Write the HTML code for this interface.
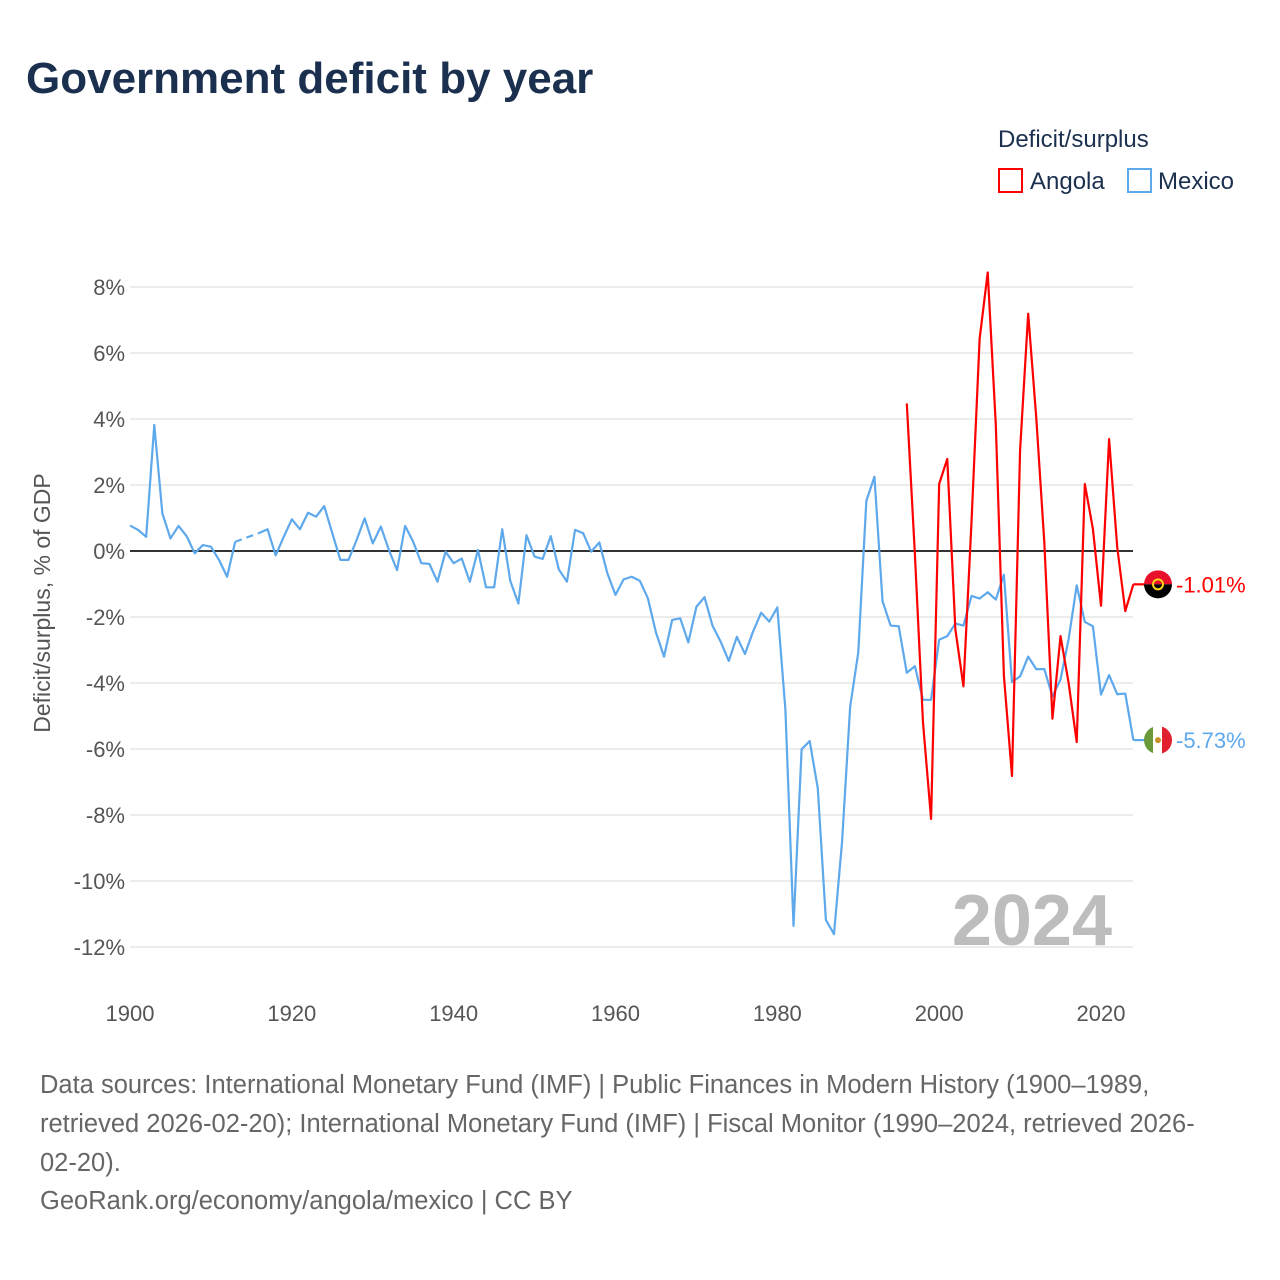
<!DOCTYPE html>
<html><head><meta charset="utf-8"><style>
body{margin:0;background:#fff;}
svg{display:block;font-family:"Liberation Sans",sans-serif;}
</style></head><body>
<svg id="chart" width="1280" height="1280" viewBox="0 0 1280 1280">
<text x="26" y="93" font-size="44" font-weight="bold" fill="#1b2f4e">Government deficit by year</text>
<g>
<text x="998" y="147" font-size="24" fill="#1b2f4e">Deficit/surplus</text>
<rect x="999" y="169" width="23" height="23" fill="none" stroke="#ff0000" stroke-width="2"/>
<text x="1030" y="189" font-size="24" fill="#1b2f4e">Angola</text>
<rect x="1128" y="169" width="23" height="23" fill="none" stroke="#5ea8ec" stroke-width="2"/>
<text x="1158" y="189" font-size="24" fill="#1b2f4e">Mexico</text>
</g>
<g id="grid"></g>
<text x="1112" y="945" font-size="72" font-weight="bold" fill="#bdbdbd" text-anchor="end">2024</text>
<g id="zero"></g>
<g id="series"></g>
<text transform="translate(50,603) rotate(-90)" font-size="23" fill="#555" text-anchor="middle">Deficit/surplus, % of GDP</text>
<g font-size="25.5" fill="#666">
<text x="40" y="1093">Data sources: International Monetary Fund (IMF) | Public Finances in Modern History (1900–1989,</text>
<text x="40" y="1132">retrieved 2026-02-20); International Monetary Fund (IMF) | Fiscal Monitor (1990–2024, retrieved 2026-</text>
<text x="40" y="1171">02-20).</text>
<text x="40" y="1209">GeoRank.org/economy/angola/mexico | CC BY</text>
</g>
</svg>
<script>
const yTicks=[8,6,4,2,0,-2,-4,-6,-8,-10,-12];
const xTicks=[1900,1920,1940,1960,1980,2000,2020];
const mexicoStart=1900;
const mexicoValues=[0.77,0.64,0.43,3.82,1.14,0.38,0.76,0.45,-0.07,0.18,0.13,-0.27,-0.78,0.28,null,null,0.55,0.66,-0.13,0.43,0.96,0.66,1.16,1.04,1.36,0.54,-0.27,-0.27,0.33,0.99,0.23,0.74,0.03,-0.58,0.76,0.28,-0.37,-0.39,-0.93,-0.02,-0.37,-0.23,-0.93,0.03,-1.1,-1.1,0.66,-0.91,-1.59,0.48,-0.17,-0.24,0.45,-0.56,-0.93,0.64,0.54,-0.02,0.26,-0.68,-1.33,-0.86,-0.78,-0.9,-1.43,-2.47,-3.2,-2.09,-2.04,-2.77,-1.69,-1.4,-2.27,-2.75,-3.33,-2.6,-3.12,-2.44,-1.87,-2.14,-1.71,-4.82,-11.36,-6.01,-5.76,-7.19,-11.18,-11.61,-8.81,-4.72,-3.08,1.52,2.25,-1.52,-2.26,-2.28,-3.69,-3.49,-4.51,-4.51,-2.69,-2.58,-2.2,-2.26,-1.36,-1.44,-1.25,-1.47,-0.72,-3.97,-3.8,-3.2,-3.58,-3.58,-4.41,-3.89,-2.67,-1.04,-2.15,-2.28,-4.35,-3.76,-4.34,-4.32,-5.73];
const angolaStart=1996;
const angolaValues=[4.47,-0.1,-5.19,-8.12,2.03,2.79,-2.37,-4.1,0.9,6.43,8.44,3.82,-3.78,-6.82,3.06,7.19,4.04,0.24,-5.08,-2.58,-4.0,-5.79,2.03,0.67,-1.66,3.39,0.13,-1.82,-1.01];
const NS="http://www.w3.org/2000/svg";
const X0=130,X1=1133;
function xs(yr){return 130+(yr-1900)*(1101-130)/120;}
function ys(v){return 551-v*33;}
function mk(tag,attrs,parent){const e=document.createElementNS(NS,tag);for(const k in attrs)e.setAttribute(k,attrs[k]);parent.appendChild(e);return e;}
const grid=document.getElementById('grid');
yTicks.forEach(t=>{
 const l=mk('line',{x1:X0,x2:X1,y1:ys(t),y2:ys(t),stroke:'#e6e6e6','stroke-width':1.5},grid);
 
 
 const tx=mk('text',{x:125,y:ys(t)+8,'font-size':22,fill:'#555','text-anchor':'end'},grid);
 tx.textContent=t+'%';
 
 
});
xTicks.forEach(t=>{
 const tx=mk('text',{x:xs(t),y:1021,'font-size':22,fill:'#555','text-anchor':'middle'},grid);
 tx.textContent=t;
 
 
});
const z=mk('line',{x1:X0,x2:X1,y1:ys(0),y2:ys(0),stroke:'#333','stroke-width':2},document.getElementById('zero'));


const sg=document.getElementById('series');
function drawSeries(start,vals,color,name){
 const g=mk('g',{},sg);
 
 
 let segs=[],cur=[];
 vals.forEach((v,i)=>{if(v===null){if(cur.length)segs.push(cur);cur=[];}else cur.push([xs(start+i),ys(v)]);});
 if(cur.length)segs.push(cur);
 segs.forEach((s,k)=>{
  const p=mk('polyline',{points:s.map(q=>q.join(',')).join(' '),fill:'none',stroke:color,'stroke-width':2.2,'stroke-linejoin':'round'},g);
  
  
  if(k<segs.length-1){const a=s[s.length-1],b=segs[k+1][0];
   const d=mk('line',{x1:a[0],y1:a[1],x2:b[0],y2:b[1],stroke:color,'stroke-width':2.2,'stroke-dasharray':'7,5'},g);
   
   }
 });
 const last=vals[vals.length-1],lx=xs(start+vals.length-1);
 const h=mk('line',{x1:lx,x2:1145,y1:ys(last),y2:ys(last),stroke:color,'stroke-width':2.2},g);
 
 
 return ys(last);
}
const ym=drawSeries(mexicoStart,mexicoValues,'#5ea8ec','mexico-line');
const ya=drawSeries(angolaStart,angolaValues,'#ff0000','angola-line');
function flag(y,name,colors,label,color){
 const g=mk('g',{},sg);
 
 
 const cp=mk('clipPath',{id:'c'+name},g);
 mk('circle',{cx:1158,cy:y,r:14},cp);
 const cg=mk('g',{'clip-path':'url(#c'+name+')'},g);
 colors(cg,y);
 const t=mk('text',{x:1176,y:y+8,'font-size':22,fill:color},sg);
 t.textContent=label;
 
 
}
flag(ya,'angola',(g,y)=>{mk('rect',{x:1140,y:y-16,width:36,height:16,fill:'#e8102b'},g);mk('rect',{x:1140,y:y,width:36,height:16,fill:'#000'},g);mk('circle',{cx:1158,cy:y,r:5,fill:'none',stroke:'#f9d616','stroke-width':2},g);},(angolaValues[angolaValues.length-1]).toFixed(2)+'%','#ff0000');
flag(ym,'mexico',(g,y)=>{mk('rect',{x:1144,y:y-16,width:10,height:32,fill:'#6a9a3a'},g);mk('rect',{x:1153,y:y-16,width:10,height:32,fill:'#fff'},g);mk('rect',{x:1162,y:y-16,width:12,height:32,fill:'#e01f2f'},g);mk('circle',{cx:1158,cy:y,r:3,fill:'#c8912b'},g);},(mexicoValues[mexicoValues.length-1]).toFixed(2)+'%','#5ea8ec');
</script>
</body></html>
